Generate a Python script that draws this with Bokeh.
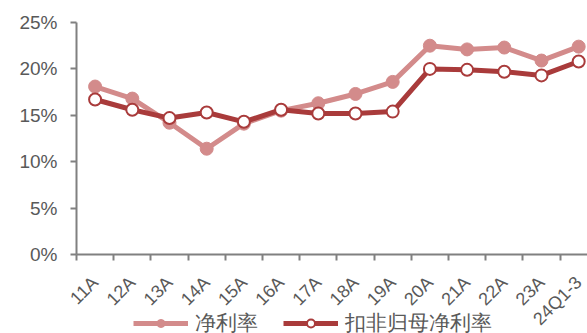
import math
from bokeh.plotting import figure
from bokeh.models import Range1d, FixedTicker, Legend, LegendItem, LinearAxis
from bokeh.embed import file_html
from bokeh.resources import INLINE

categories = ["11A", "12A", "13A", "14A", "15A", "16A", "17A", "18A", "19A", "20A", "21A", "22A", "23A", "24Q1-3"]
net_margin = [18.1, 16.8, 14.2, 11.4, 14.1, 15.5, 16.3, 17.3, 18.6, 22.5, 22.1, 22.3, 20.9, 22.4]
deducted_margin = [16.7, 15.6, 14.7, 15.3, 14.3, 15.6, 15.2, 15.2, 15.4, 20.0, 19.9, 19.7, 19.3, 20.8]
y_ticks = [0, 5, 10, 15, 20, 25]
y_tick_labels = ["0%", "5%", "10%", "15%", "20%", "25%"]

LIGHT = "#D38B8B"
DARK = "#A93B3B"
AXIS = "#808080"
TEXT = "#595959"
FONT = "Liberation Sans"

xs = list(range(len(categories)))

p = figure(width=587, height=333, output_backend="svg", toolbar_location=None,
           x_range=Range1d(-2.543, 13.237), y_range=Range1d(-8.51, 27.37),
           min_border_left=0, min_border_right=0, min_border_top=0, min_border_bottom=0,
           x_axis_type=None, y_axis_type=None)
p.outline_line_color = None
p.grid.visible = False
p.background_fill_color = "white"
p.border_fill_color = "white"

# y axis drawn at the left edge of the first category
yax = LinearAxis(ticker=FixedTicker(ticks=y_ticks), bounds=(0, 25), fixed_location=-0.5,
                 major_label_overrides={t: l for t, l in zip(y_ticks, y_tick_labels)})
yax.axis_line_color = AXIS
yax.axis_line_width = 2
yax.major_tick_line_color = AXIS
yax.major_tick_line_width = 2
yax.major_tick_out = 6
yax.major_tick_in = 0
yax.minor_tick_line_color = None
yax.major_label_standoff = 13
yax.major_label_text_font = FONT
yax.major_label_text_font_size = "19px"
yax.major_label_text_color = TEXT
p.add_layout(yax, "left")

# x axis at y=0: labels at centers, tick marks at boundaries (minor ticks)
xax = LinearAxis(ticker=FixedTicker(ticks=xs, minor_ticks=[i - 0.5 for i in range(len(categories) + 1)]),
                 major_label_overrides={i: c for i, c in enumerate(categories)}, fixed_location=0,
                 bounds=(-0.5, 14))
xax.axis_line_color = AXIS
xax.axis_line_width = 2
xax.major_tick_line_color = None
xax.major_tick_out = 0
xax.major_tick_in = 0
xax.minor_tick_line_color = AXIS
xax.minor_tick_line_width = 2
xax.minor_tick_out = 6
xax.minor_tick_in = 0
xax.major_label_orientation = math.pi / 4
xax.major_label_standoff = 19
xax.major_label_text_font = FONT
xax.major_label_text_font_size = "18px"
xax.major_label_text_color = TEXT
p.add_layout(xax, "below")

l1 = p.line(xs, net_margin, line_color=LIGHT, line_width=5)
c1 = p.scatter(xs, net_margin, size=13, fill_color=LIGHT, line_color=LIGHT)
l2 = p.line(xs, deducted_margin, line_color=DARK, line_width=5)
c2 = p.scatter(xs, deducted_margin, size=12, fill_color="white", line_color=DARK, line_width=2)

legend = Legend(items=[LegendItem(label="净利率", renderers=[l1, c1]),
                       LegendItem(label="扣非归母净利率", renderers=[l2, c2])],
                location=(133, -4), orientation="horizontal")
legend.border_line_color = None
legend.background_fill_alpha = 0
legend.padding = 0
legend.margin = 0
legend.spacing = 25
legend.glyph_width = 55
legend.glyph_height = 20
legend.label_standoff = 7
legend.label_text_font = FONT
legend.label_text_font_size = "21px"
legend.label_text_color = TEXT
p.add_layout(legend, "center")

open("out.html", "w").write(file_html(p, INLINE))
